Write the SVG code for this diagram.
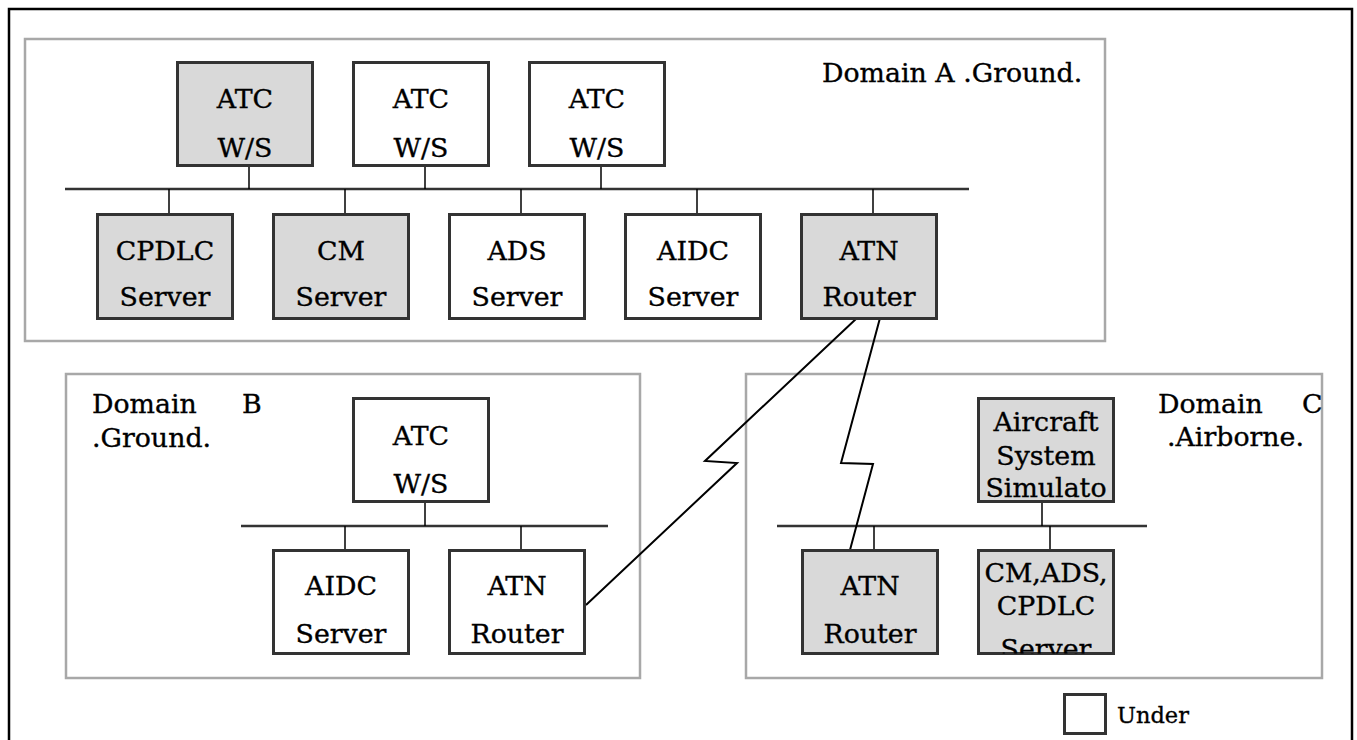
<svg xmlns="http://www.w3.org/2000/svg" width="1357" height="740" viewBox="0 0 1357 740">
<style>
.t{font-family:"DejaVu Serif","Liberation Serif",serif;font-size:26.8px;fill:#000;stroke:#000;stroke-width:0.35;text-anchor:middle}
.l{font-family:"DejaVu Serif","Liberation Serif",serif;font-size:26.8px;fill:#000;stroke:#000;stroke-width:0.35}
.dom{fill:#fff;stroke:#a8a8a8;stroke-width:2.5}
.box{fill:#fff;stroke:#333;stroke-width:3}
.g{fill:#d9d9d9}
.bus{stroke:#333;stroke-width:2.5;fill:none}
.c{stroke:#000;stroke-width:1.5;fill:none}
.z{stroke:#000;stroke-width:2;fill:none}
</style>
<defs>
<clipPath id="clipCM"><rect x="978.5" y="550.5" width="135" height="103"/></clipPath>
</defs>
<rect x="0" y="0" width="1357" height="740" fill="#fff"/>
<path d="M9,745 V9 H1352 V745" fill="none" stroke="#000" stroke-width="2.5"/>

<g id="domainA">
<rect class="dom" x="25" y="39" width="1080" height="302"/>
<text class="l" x="822" y="82" xml:space="preserve">Domain A .Ground.</text>
</g>
<g id="domainB">
<rect class="dom" x="66" y="374" width="574" height="304"/>
<text class="l" x="92" y="413">Domain</text>
<text class="l" x="242" y="413">B</text>
<text class="l" x="92" y="447">.Ground.</text>
</g>
<g id="domainC">
<rect class="dom" x="746" y="374" width="576" height="304"/>
<text class="l" x="1158" y="413">Domain</text>
<text class="l" x="1302" y="413">C</text>
<text class="l" x="1167" y="446">.Airborne.</text>
</g>

<g id="connectors">
<line class="bus" x1="65" y1="189" x2="969" y2="189"/>
<line class="bus" x1="241" y1="526" x2="608" y2="526"/>
<line class="bus" x1="777" y1="526" x2="1147" y2="526"/>
<line class="c" x1="249" y1="167" x2="249" y2="189"/>
<line class="c" x1="425" y1="167" x2="425" y2="189"/>
<line class="c" x1="601" y1="167" x2="601" y2="189"/>
<line class="c" x1="169" y1="189" x2="169" y2="213"/>
<line class="c" x1="345" y1="189" x2="345" y2="213"/>
<line class="c" x1="521" y1="189" x2="521" y2="213"/>
<line class="c" x1="697" y1="189" x2="697" y2="213"/>
<line class="c" x1="873" y1="189" x2="873" y2="213"/>
<line class="c" x1="425" y1="503" x2="425" y2="526"/>
<line class="c" x1="345" y1="526" x2="345" y2="549"/>
<line class="c" x1="521" y1="526" x2="521" y2="549"/>
<line class="c" x1="1042" y1="503" x2="1042" y2="526"/>
<line class="c" x1="874" y1="526" x2="874" y2="549"/>
<line class="c" x1="1050" y1="526" x2="1050" y2="549"/>
<polyline class="z" points="857,318 705,461 737,463 586,605"/>
<polyline class="z" points="880,318 841,463 873,464 850,550"/>
</g>

<g id="atcA1"><rect class="box g" x="177.5" y="62.5" width="135" height="103"/><text class="t" x="245" y="108">ATC</text><text class="t" x="245" y="157">W/S</text></g>
<g id="atcA2"><rect class="box" x="353.5" y="62.5" width="135" height="103"/><text class="t" x="421" y="108">ATC</text><text class="t" x="421" y="157">W/S</text></g>
<g id="atcA3"><rect class="box" x="529.5" y="62.5" width="135" height="103"/><text class="t" x="597" y="108">ATC</text><text class="t" x="597" y="157">W/S</text></g>

<g id="cpdlcA"><rect class="box g" x="97.5" y="214.5" width="135" height="104"/><text class="t" x="165" y="260">CPDLC</text><text class="t" x="165" y="306">Server</text></g>
<g id="cmA"><rect class="box g" x="273.5" y="214.5" width="135" height="104"/><text class="t" x="341" y="260">CM</text><text class="t" x="341" y="306">Server</text></g>
<g id="adsA"><rect class="box" x="449.5" y="214.5" width="135" height="104"/><text class="t" x="517" y="260">ADS</text><text class="t" x="517" y="306">Server</text></g>
<g id="aidcA"><rect class="box" x="625.5" y="214.5" width="135" height="104"/><text class="t" x="693" y="260">AIDC</text><text class="t" x="693" y="306">Server</text></g>
<g id="atnA"><rect class="box g" x="801.5" y="214.5" width="135" height="104"/><text class="t" x="869" y="260">ATN</text><text class="t" x="869" y="306">Router</text></g>

<g id="atcB"><rect class="box" x="353.5" y="398.5" width="135" height="103"/><text class="t" x="421" y="445">ATC</text><text class="t" x="421" y="493">W/S</text></g>
<g id="aidcB"><rect class="box" x="273.5" y="550.5" width="135" height="103"/><text class="t" x="341" y="595">AIDC</text><text class="t" x="341" y="643">Server</text></g>
<g id="atnB"><rect class="box" x="449.5" y="550.5" width="135" height="103"/><text class="t" x="517" y="595">ATN</text><text class="t" x="517" y="643">Router</text></g>

<g id="aircraftC"><rect class="box g" x="978.5" y="398.5" width="135" height="103"/><text class="t" x="1046" y="431">Aircraft</text><text class="t" x="1046" y="465">System</text><text class="t" x="1046" y="497">Simulato</text></g>
<g id="atnC"><rect class="box g" x="802.5" y="550.5" width="135" height="103"/><text class="t" x="870" y="595">ATN</text><text class="t" x="870" y="643">Router</text></g>
<g id="serverC"><rect class="box g" x="978.5" y="550.5" width="135" height="103"/><g clip-path="url(#clipCM)"><text class="t" x="1046" y="582">CM,ADS,</text><text class="t" x="1046" y="615">CPDLC</text><text class="t" x="1046" y="658">Server</text></g></g>

<g id="legend"><rect class="box" x="1064.5" y="694.5" width="41" height="39"/><text class="l" x="1117" y="723" style="font-size:22.5px">Under</text></g>
</svg>
